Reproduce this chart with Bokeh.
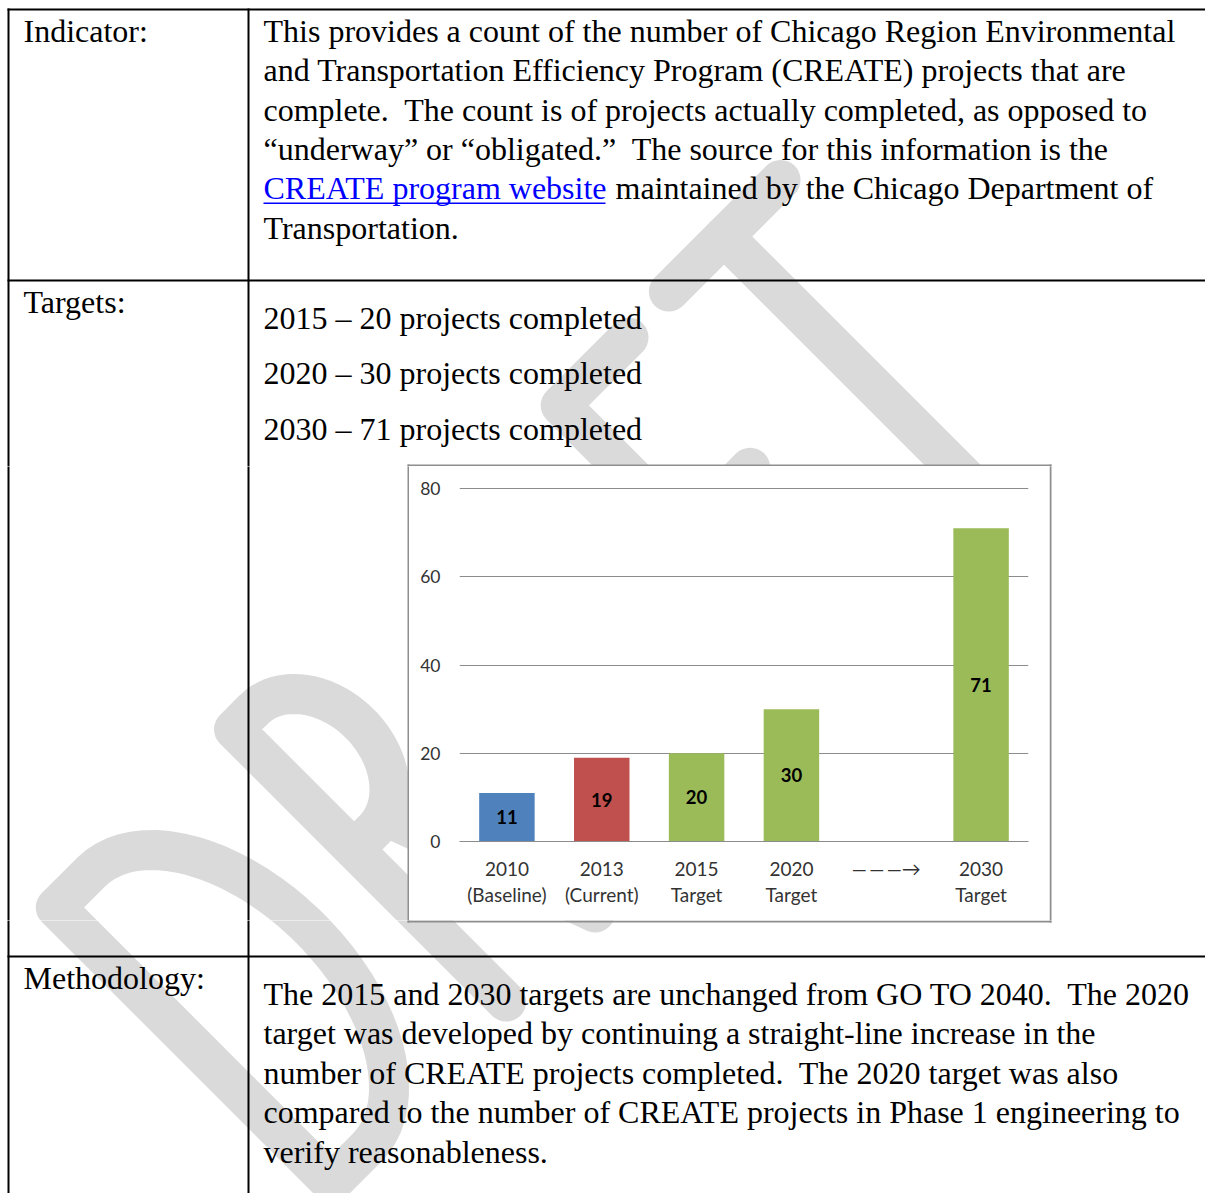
import numpy as np
from bokeh.plotting import figure
from bokeh.layouts import column, row
from bokeh.models import Range1d, FactorRange, FixedTicker
from bokeh.core.properties import value
from bokeh.embed import file_html
from bokeh.resources import INLINE

# ---------------- chart data ----------------
categories = ["2010\n(Baseline)", "2013\n(Current)", "2015\nTarget", "2020\nTarget",
              "\u2014\u2009\u2014\u2009\u2014\u2192", "2030\nTarget"]
bar_categories = ["2010\n(Baseline)", "2013\n(Current)", "2015\nTarget", "2020\nTarget", "2030\nTarget"]
bar_values = [11, 19, 20, 30, 71]
bar_colors = ["#4f81bd", "#c0504d", "#9bbb59", "#9bbb59", "#9bbb59"]
y_ticks = [0, 20, 40, 60, 80]

# ---------------- document text ----------------
SP2 = "\u00a0 "
indicator_label = "Indicator:"
indicator_lines = [
    "This provides a count of the number of Chicago Region Environmental",
    "and Transportation Efficiency Program (CREATE) projects that are",
    "complete." + SP2 + "The count is of projects actually completed, as opposed to",
    "\u201cunderway\u201d or \u201cobligated.\u201d" + SP2 + "The source for this information is the",
    None,
    "Transportation.",
]
link_text = "CREATE program website"
link_rest = "maintained by the Chicago Department of"
targets_label = "Targets:"
targets_lines = [
    "2015 \u2013 20 projects completed",
    "2020 \u2013 30 projects completed",
    "2030 \u2013 71 projects completed",
]
method_label = "Methodology:"
method_lines = [
    "The 2015 and 2030 targets are unchanged from GO TO 2040." + SP2 + "The 2020",
    "target was developed by continuing a straight-line increase in the",
    "number of CREATE projects completed." + SP2 + "The 2020 target was also",
    "compared to the number of CREATE projects in Phase 1 engineering to",
    "verify reasonableness.",
]

SERIF = value("Liberation Serif")
SERIF_SIZE = "32px"
GRAY_WM = "#dadada"

# page geometry (screen pixel coordinates)
PX0, PX1, PY0, PY1 = 0, 1205, 0, 1193
BOX_L, BOX_R, BOX_T, BOX_B = 409, 1049, 466, 920
TBL_L, TBL_T = 8, 9


# ---------------- watermark "DRAFT": letter strokes as centrelines ----------------
def arc(cx, cd, rx, rd, t0, t1, n=40):
    t = np.radians(np.linspace(t0, t1, n))
    return list(zip(cx + rx * np.cos(t), cd - rd * np.sin(t)))


def letter_strokes():
    s = []
    # D
    s.append([(20, 410), (20, 20)] + arc(70, 215, 115, 195, 90, -90) + [(20, 410)])
    # R
    s.append([(272, 405), (272, 20)] + arc(300, 105, 65, 85, 90, -90) + [(272, 190)])
    s.append([(318, 190), (398, 405)])
    # A
    s.append([(452, 405), (560, 20), (668, 405)])
    s.append([(488, 290), (632, 290)])
    # F
    s.append([(828, 22), (732, 22), (732, 405)])
    s.append([(732, 200), (822, 200)])
    # T
    s.append([(889, 18), (1047, 18)])
    s.append([(967, 18), (967, 405)])
    return s


def watermark_xy():
    cx, cy = 27.0, 907.0
    a = np.radians(45.0)
    b = np.radians(45.0)
    bx, by = np.cos(a), -np.sin(a)
    dx, dy = np.sin(b), np.cos(b)
    xs, ys = [], []
    for stroke in letter_strokes():
        u = np.array([p[0] for p in stroke])
        d = np.array([p[1] for p in stroke])
        xs.append(list(cx + u * bx + d * dx))
        ys.append(list(cy + u * by + d * dy))
    return xs, ys


WM_XS, WM_YS = watermark_xy()


def doc_figure(x0, x1, y0, y1):
    p = figure(width=x1 - x0, height=y1 - y0,
               x_range=Range1d(x0, x1), y_range=Range1d(y1, y0),
               x_axis_type=None, y_axis_type=None,
               output_backend="svg", toolbar_location=None,
               min_border=0, outline_line_color=None, frame_align=False,
               background_fill_color="white", border_fill_color="white")
    p.grid.visible = False
    p.multi_line(WM_XS, WM_YS, line_color=GRAY_WM, line_width=40,
                 line_join="round", line_cap="round")
    # table rules
    p.segment(x0=[TBL_L - 1, TBL_L - 1, TBL_L - 1, TBL_L, 248],
              y0=[TBL_T, 280, 956, TBL_T - 1, TBL_T - 1],
              x1=[PX1, PX1, PX1, TBL_L, 248],
              y1=[TBL_T, 280, 956, PY1, PY1],
              line_color="black", line_width=2)
    # chart box frame
    p.segment(x0=[407, 407, 408, 1050], y0=[465, 921, 464, 464],
              x1=[1051, 1051, 408, 1050], y1=[465, 921, 922, 922],
              line_color="#8e8e8e", line_width=2)
    return p


def add_text(p, xs, ys, texts, color="black"):
    p.text(x=xs, y=ys, text=texts, text_font=SERIF, text_font_size=SERIF_SIZE,
           text_color=color, text_align="left", text_baseline="middle")


# ---------------- top part ----------------
top = doc_figure(PX0, PX1, PY0, BOX_T)
ind_y = [30.5 + i * 39.3 for i in range(len(indicator_lines))]
plain = [(t, y) for t, y in zip(indicator_lines, ind_y) if t is not None]
add_text(top, [23] + [263] * len(plain), [ind_y[0]] + [y for _, y in plain],
         [indicator_label] + [t for t, _ in plain])
add_text(top, [263], [ind_y[4]], [link_text], color="#0000ff")
top.segment(x0=[263], y0=[ind_y[4] + 15], x1=[605], y1=[ind_y[4] + 15],
            line_color="#0000ff", line_width=1.5)
add_text(top, [615], [ind_y[4]], [link_rest])
tgt_y = [317 + i * 55.5 for i in range(len(targets_lines))]
add_text(top, [23] + [263] * len(targets_lines), [301] + tgt_y,
         [targets_label] + targets_lines)

# ---------------- middle row ----------------
left_mid = doc_figure(PX0, BOX_L, BOX_T, BOX_B)
right_mid = doc_figure(BOX_R, PX1, BOX_T, BOX_B)

chart = figure(width=BOX_R - BOX_L, height=BOX_B - BOX_T,
               x_range=FactorRange(factors=categories, range_padding=0),
               y_range=Range1d(0, 80.25),
               output_backend="svg", toolbar_location=None, frame_align=False,
               min_border_left=50, min_border_right=21,
               min_border_top=21, min_border_bottom=79,
               outline_line_color=None,
               background_fill_color="white", border_fill_color="white")
chart.vbar(x=bar_categories, top=bar_values, width=0.585, fill_color=bar_colors,
           line_color=None)
chart.text(x=bar_categories, y=[v / 2 for v in bar_values], text=[str(v) for v in bar_values],
           text_font=value("Lato"), text_font_style="bold", text_font_size="18.5px",
           text_color="black", text_align="center", text_baseline="middle")
chart.xgrid.visible = False
chart.ygrid.ticker = FixedTicker(ticks=y_ticks)
chart.ygrid.grid_line_color = "#8c8c8c"
chart.ygrid.grid_line_width = 1
chart.yaxis.ticker = FixedTicker(ticks=y_ticks)
chart.yaxis.axis_line_color = None
chart.yaxis.major_tick_line_color = None
chart.yaxis.minor_tick_line_color = None
chart.yaxis.major_tick_out = 0
chart.yaxis.major_label_standoff = 19
chart.xaxis.axis_line_color = "#8c8c8c"
chart.xaxis.major_tick_line_color = None
chart.xaxis.major_tick_out = 0
chart.xaxis.major_label_standoff = 15
chart.xaxis.major_label_text_line_height = 1.15
for ax in (chart.xaxis, chart.yaxis):
    ax.major_label_text_font = "Lato"
    ax.major_label_text_color = "#333333"
chart.xaxis.major_label_text_font_size = "19px"
chart.yaxis.major_label_text_font_size = "17.5px"

# ---------------- bottom part ----------------
bottom = doc_figure(PX0, PX1, BOX_B, PY1)
m_y = [993 + i * 39.5 for i in range(len(method_lines))]
add_text(bottom, [23] + [263] * len(method_lines), [977] + m_y,
         [method_label] + method_lines)

layout = column(top, row(left_mid, chart, right_mid, spacing=0), bottom, spacing=0)
open("out.html", "w").write(file_html(layout, INLINE, title="CREATE projects completed"))
